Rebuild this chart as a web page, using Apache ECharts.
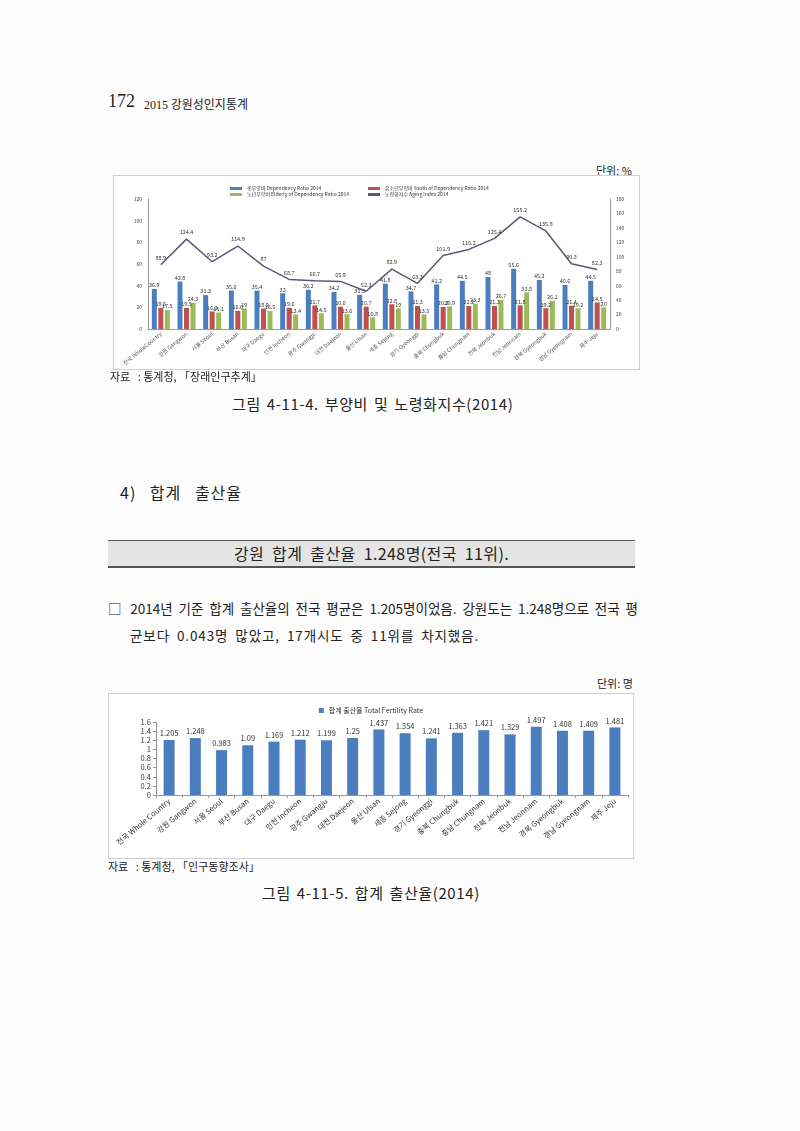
<!DOCTYPE html>
<html>
<head>
<meta charset="utf-8">
<script src="https://cdn.jsdelivr.net/npm/echarts@6/dist/echarts.min.js"></script>
<style>
  body { margin: 0; background: #fdfdfd; }
  #page { position: relative; width: 800px; height: 1131px; font-family: "Noto Sans CJK KR", sans-serif; color: #222; }
  .t { position: absolute; white-space: nowrap; }
  .serif { font-family: "Liberation Serif", "Noto Sans CJK KR", serif; }
  .box { position: absolute; border: 1px solid #cfcfcf; background: #fff; }
</style>
</head>
<body>
<div id="page">
  <div class="t serif" style="left:108px;top:91px;font-size:18px;">172</div>
  <div class="t" style="left:144px;top:95px;font-size:12px;"><span class="serif">2015</span> 강원성인지통계</div>

  <div class="t" style="left:596px;top:162px;font-size:11px;">단위: %</div>
  <div class="box" id="c1" style="left:113px;top:175px;width:525px;height:193px;"></div>
  <div class="t" style="left:110px;top:368px;font-size:11px;">자료&nbsp;&nbsp;&nbsp;: 통계청, 「장래인구추계」</div>
  <div class="t" style="left:232px;top:393px;font-size:15px;letter-spacing:0.6px;word-spacing:2px;">그림 4-11-4. 부양비 및 노령화지수(2014)</div>

  <div class="t" style="left:120px;top:480px;font-size:16px;letter-spacing:1px;word-spacing:9px;">4) 합계 출산율</div>

  <div style="position:absolute;left:108px;top:540px;width:527px;height:25px;background:#e4e4e4;border-top:1px solid #555;border-bottom:2px solid #555;"></div>
  <div class="t" style="left:108px;top:541px;width:527px;text-align:center;font-size:16px;letter-spacing:0.4px;word-spacing:4px;">강원 합계 출산율 1.248명(전국 11위).</div>

  <div class="t" style="left:108px;top:598px;width:530px;font-size:13.5px;text-align:justify;text-align-last:justify;">□ 2014년 기준 합계 출산율의 전국 평균은 1.205명이었음. 강원도는 1.248명으로 전국 평</div>
  <div class="t" style="left:130px;top:625px;font-size:13.5px;letter-spacing:0.9px;word-spacing:3px;">균보다 0.043명 많았고, 17개시도 중 11위를 차지했음.</div>

  <div class="t" style="left:597px;top:675px;font-size:11px;">단위: 명</div>
  <div class="box" id="c2" style="left:108px;top:693px;width:524px;height:164px;"></div>
  <div class="t" style="left:108px;top:858px;font-size:11px;">자료&nbsp;&nbsp;&nbsp;: 통계청, 「인구동향조사」</div>
  <div class="t" style="left:262px;top:882px;font-size:15px;letter-spacing:0.6px;word-spacing:2px;">그림 4-11-5. 합계 출산율(2014)</div>
</div>
<script>
var regions = ["전국 WholeCountry", "강원 Gangwon", "서울 Seoul", "부산 Busan", "대구 Daegu", "인천 Incheon",
  "광주 Gwangju", "대전 Daejeon", "울산 Ulsan", "세종 Sejong", "경기 Gyeonggi", "충북 Chungbuk",
  "충남 Chungnam", "전북 Jeonbuk", "전남 Jeonnam", "경북 Gyeongbuk", "경남 Gyeongnam", "제주 Jeju"];
var regions2 = ["전국 Whole Country"].concat(regions.slice(1));

var dependency = [36.9, 43.8, 31.3, 35.6, 35.4, 33, 36.2, 34.2, 31.5, 41.8, 34.7, 41.2, 44.5, 48, 55.6, 45.2, 40.6, 44.5];
var youth = [19.5, 19.5, 16.2, 16.6, 18.9, 19.6, 21.7, 20.6, 20.7, 22.8, 21.3, 20.3, 21.2, 21.3, 21.8, 19.2, 21.4, 24.5];
var elderly = [17.5, 24.3, 15.1, 19, 16.5, 13.4, 14.5, 13.6, 10.8, 19, 13.5, 20.9, 23.3, 26.7, 33.8, 26.1, 19.2, 20];
var aging = [88.9, 124.4, 93.2, 114.9, 87, 68.7, 66.7, 65.9, 52.3, 82.9, 63.3, 101.9, 110.2, 125.4, 155.2, 135.8, 90.3, 82.3];

var fertility = [1.205, 1.248, 0.983, 1.09, 1.169, 1.212, 1.199, 1.25, 1.437, 1.354, 1.241, 1.363, 1.421, 1.329, 1.497, 1.408, 1.409, 1.481];

var font = "Noto Sans CJK KR";
var small = {fontSize: 5.5, color: "#333", fontFamily: font};

function barSeries(name, data, color) {
  return {type: "bar", name: name, data: data, barWidth: 5, barGap: "30%",
    itemStyle: {color: color}, label: Object.assign({show: true, position: "top", distance: 1}, small)};
}

var c1 = echarts.init(document.getElementById("c1"));
c1.setOption({
  animation: false,
  textStyle: {fontFamily: font},
  grid: {left: 34, right: 29, top: 23, bottom: 40},
  legend: [
    {orient: "vertical", left: 111, top: 5, itemGap: 1, itemWidth: 12, itemHeight: 3, icon: "rect",
     textStyle: {fontSize: 5, color: "#333"}, data: ["총부양비 Dependency Ratio 2014", "노년부양비 Elderly of Dependency Ratio 2014"]},
    {orient: "vertical", left: 249, top: 5, itemGap: 1, itemWidth: 12, itemHeight: 3, icon: "rect",
     textStyle: {fontSize: 5, color: "#333"}, data: ["유소년부양비 Youth of Dependency Ratio 2014", "노령화지수 Aging Index 2014"]}
  ],
  xAxis: {type: "category", data: regions,
    axisLine: {lineStyle: {color: "#999"}}, axisTick: {show: false},
    axisLabel: {rotate: 40, fontSize: 5.5, color: "#555", margin: 4, interval: 0}},
  yAxis: [
    {type: "value", min: 0, max: 120, interval: 20, splitLine: {show: false},
     axisLine: {show: true, lineStyle: {color: "#999"}}, axisTick: {show: false},
     axisLabel: {fontSize: 5, color: "#444", margin: 6}},
    {type: "value", min: 0, max: 180, interval: 20, splitLine: {show: false},
     axisLine: {show: true, lineStyle: {color: "#999"}}, axisTick: {show: false},
     axisLabel: {fontSize: 5, color: "#444", margin: 6}}
  ],
  series: [
    barSeries("총부양비 Dependency Ratio 2014", dependency, "#4a7ebf"),
    barSeries("유소년부양비 Youth of Dependency Ratio 2014", youth, "#c0504d"),
    barSeries("노년부양비 Elderly of Dependency Ratio 2014", elderly, "#9bbb59"),
    {type: "line", name: "노령화지수 Aging Index 2014", data: aging, yAxisIndex: 1,
     symbol: "circle", symbolSize: 0.1, showSymbol: true,
     lineStyle: {color: "#5e5479", width: 1.5}, itemStyle: {color: "#5e5479"},
     label: Object.assign({show: true, position: "top", distance: 4}, small)}
  ]
});

var c2 = echarts.init(document.getElementById("c2"));
c2.setOption({
  animation: false,
  textStyle: {fontFamily: font},
  grid: {left: 47, right: 5, top: 28, bottom: 63},
  legend: {left: "center", top: 8, itemWidth: 5, itemHeight: 5, icon: "rect",
    textStyle: {fontSize: 7, color: "#333"}, data: ["합계 출산율 Total Fertility Rate"]},
  xAxis: {type: "category", data: regions2,
    axisLine: {lineStyle: {color: "#999"}}, axisTick: {show: true, length: 3, lineStyle: {color: "#999"}},
    axisLabel: {rotate: 40, fontSize: 7.5, color: "#333", margin: 5, interval: 0}},
  yAxis: {type: "value", min: 0, max: 1.6, interval: 0.2, splitLine: {show: false},
    axisLine: {show: true, lineStyle: {color: "#999"}}, axisTick: {show: true, length: 3, lineStyle: {color: "#999"}},
    axisLabel: {fontSize: 7.5, color: "#333", margin: 5}},
  series: [{type: "bar", name: "합계 출산율 Total Fertility Rate", data: fertility, barWidth: 11,
    itemStyle: {color: "#4a7ebf"},
    label: {show: true, position: "top", distance: 3, fontSize: 7.5, color: "#333", fontFamily: font}}]
});
</script>
</body>
</html>
